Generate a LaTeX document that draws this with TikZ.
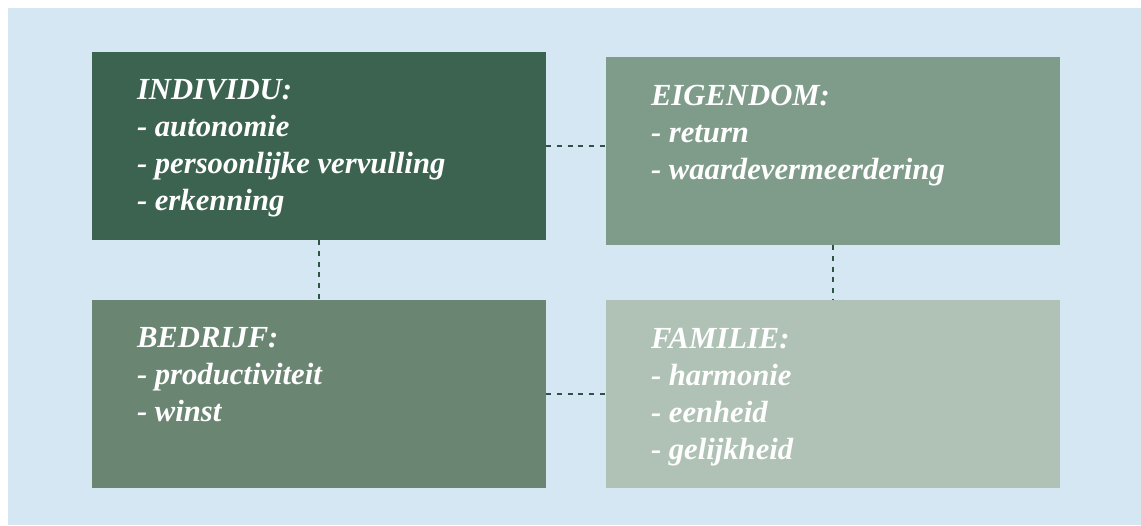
\documentclass[tikz,border=0pt]{standalone}
\usepackage{fontspec}
\setmainfont{Liberation Serif}
\usetikzlibrary{calc}

\definecolor{achtergrond}{HTML}{D6E7F4}
\definecolor{groen1}{HTML}{3B6350}
\definecolor{groen2}{HTML}{7F9C8B}
\definecolor{groen3}{HTML}{6A8673}
\definecolor{groen4}{HTML}{AFC2B5}
\definecolor{lijn}{HTML}{2E5446}

\tikzset{
  vak/.style={rectangle, draw=none, inner sep=0pt,
    minimum width=340.5pt, minimum height=141pt},
  vaktekst/.style={anchor=north west, inner sep=0pt, text=white,
    align=left, font=\bfseries\itshape\fontsize{23}{27.75}\selectfont},
  verbinding/.style={draw=lijn, line width=0.8pt,
    dash pattern=on 3.75pt off 4.25pt}
}

\begin{document}
\begin{tikzpicture}[x=0.75pt, y=-0.75pt]
  % achtergrond
  \fill[white] (0,0) rectangle (1141,525);
  \fill[achtergrond] (8,8) rectangle (1141,525);
  \useasboundingbox (0,0) rectangle (1141,525);

  % vakken
  \node[vak, fill=groen1] (individu) at (319,146) {};
  \node[vak, fill=groen2] (eigendom) at (833,151) {};
  \node[vak, fill=groen3] (bedrijf) at (319,394) {};
  \node[vak, fill=groen4] (familie) at (833,394) {};

  % teksten
  \node[vaktekst] (individutekst) at ([shift={(45,27)}]individu.north west)
    {INDIVIDU:\\- autonomie\\- persoonlijke vervulling\\- erkenning};
  \node[vaktekst] (eigendomtekst) at ([shift={(45,28)}]eigendom.north west)
    {EIGENDOM:\\- return\\- waardevermeerdering};
  \node[vaktekst] (bedrijftekst) at ([shift={(45,27)}]bedrijf.north west)
    {BEDRIJF:\\- productiviteit\\- winst};
  \node[vaktekst] (familietekst) at ([shift={(45,28)}]familie.north west)
    {FAMILIE:\\- harmonie\\- eenheid\\- gelijkheid};

  % verbindingen
  \draw[verbinding] (individu.east) -- (individu.east -| eigendom.west);
  \draw[verbinding] (individu.south) -- (individu.south |- bedrijf.north);
  \draw[verbinding] (eigendom.south) -- (eigendom.south |- familie.north);
  \draw[verbinding] (bedrijf.east) -- (familie.west);
\end{tikzpicture}
\end{document}
